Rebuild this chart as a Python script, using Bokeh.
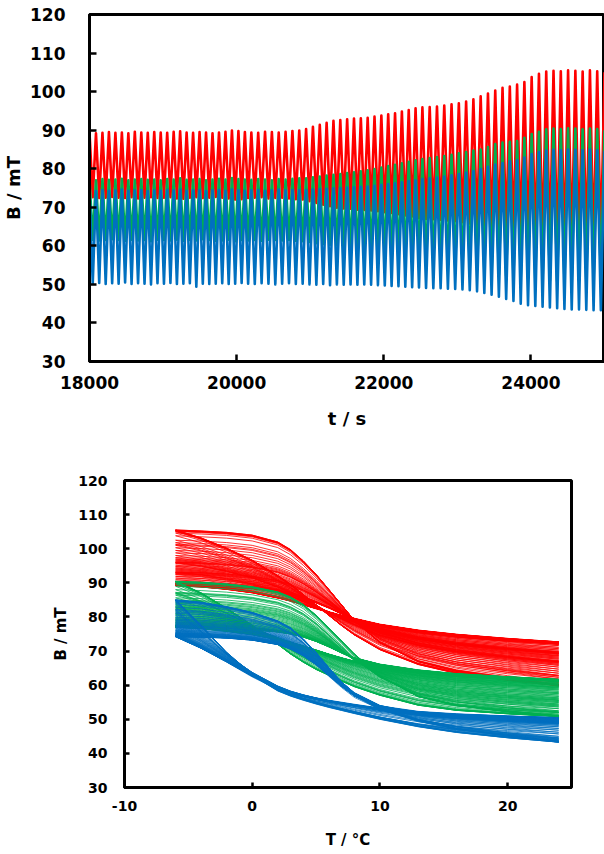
import numpy as np
from bokeh.plotting import figure
from bokeh.models import Range1d, FixedTicker, PrintfTickFormatter
from bokeh.embed import file_html
from bokeh.resources import INLINE

# ---------------- data ----------------
# temperature-cycle periods (s) between successive B maxima
cycle_period_s = [88] * 25 + [93] * 25 + [99] * 25
t_start = 18000

red_peak = [89.4, 89.2, 89.3, 89.5, 89.3, 89.4, 89.2, 89.6, 89.4, 89.3, 89.5, 89.4, 89.3, 89.6, 89.7, 89.4,
            89.3, 89.5, 89.4, 89.2, 89.4, 89.6, 89.9, 89.8, 89.5, 89.4, 89.3, 89.6, 89.5, 89.4, 89.6, 89.8, 89.9,
            90.3, 90.9, 91.4, 91.9, 92.4, 92.6, 92.8, 93.0, 93.1, 93.2, 93.5, 93.8, 94.1, 94.4, 94.8, 95.2,
            95.7, 95.9, 96.0, 96.1, 96.4, 96.7, 97.0, 97.4, 98.0, 98.8, 99.5, 100.3, 101.0, 101.3, 101.8,
            102.5, 103.8, 104.6, 105.2, 105.4, 105.3, 105.5, 105.4, 105.2, 105.5, 105.3, 105.0]
red_trough = [72.6, 72.4, 72.5, 72.7, 72.5, 72.4, 72.6, 72.3, 72.5, 72.6, 72.4, 72.5, 72.6, 72.3, 72.2, 72.5,
              72.6, 72.4, 72.5, 72.7, 72.5, 72.3, 72.0, 72.1, 72.4, 72.5, 72.6, 72.3, 72.4, 72.5, 72.3, 72.1, 72.0,
              71.6, 71.1, 70.7, 70.3, 69.9, 69.7, 69.6, 69.4, 69.3, 69.2, 69.0, 68.7, 68.5, 68.2, 67.9, 67.6,
              67.2, 67.0, 66.9, 66.8, 66.6, 66.4, 66.1, 65.8, 65.3, 64.7, 64.1, 63.5, 62.9, 62.7, 62.3, 61.8,
              60.8, 60.3, 60.0, 59.9, 60.0, 59.8, 59.9, 60.1, 59.8, 60.0]
green_peak = [77.2, 77.0, 77.3, 77.1, 77.2, 77.4, 77.0, 77.2, 77.3, 77.1, 77.2, 77.0, 77.3, 77.2, 77.5, 77.1,
              77.2, 77.3, 77.0, 77.2, 77.4, 77.2, 77.6, 77.3, 77.2, 77.1, 77.3, 77.2, 77.0, 77.3, 77.2, 77.4, 77.5,
              77.5, 77.8, 78.0, 78.2, 78.4, 78.6, 78.9, 79.1, 79.3, 79.6, 79.9, 80.3, 80.7, 81.0, 81.4, 81.8,
              82.2, 82.5, 82.8, 83.0, 83.3, 83.6, 84.0, 84.3, 84.7, 85.0, 85.6, 86.4, 86.8, 87.0, 87.2, 88.0,
              89.0, 89.6, 90.2, 90.4, 90.3, 90.5, 90.4, 90.2, 90.4, 90.3, 90.0]
green_trough = [61.6, 61.4, 61.5, 61.7, 61.5, 61.3, 61.6, 61.4, 61.5, 61.2, 61.6, 61.5, 61.4, 61.6, 61.3, 61.5,
                61.4, 61.7, 61.5, 61.3, 61.4, 61.6, 61.2, 61.5, 61.4, 61.5, 61.3, 61.6, 61.5, 61.4, 61.5, 61.3, 61.2,
                61.0, 60.7, 60.5, 60.3, 60.1, 59.9, 59.6, 59.4, 59.2, 58.9, 58.6, 58.2, 57.8, 57.5, 57.1, 56.7,
                56.3, 56.0, 55.7, 55.5, 55.2, 54.9, 54.5, 54.2, 53.9, 53.6, 53.1, 52.5, 52.2, 52.0, 51.9, 51.5,
                51.2, 51.0, 50.9, 50.8, 50.9, 50.8, 50.9, 51.0, 50.8, 50.9]
blue_peak = [74.4, 74.2, 74.5, 74.3, 74.4, 74.6, 74.3, 74.4, 74.5, 74.2, 74.4, 74.3, 74.5, 74.4, 74.6, 74.3,
             74.4, 74.5, 74.2, 74.4, 74.5, 74.3, 74.6, 74.4, 74.3, 74.4, 74.5, 74.3, 74.4, 74.6, 74.4, 74.5, 74.4,
             74.5, 74.6, 74.7, 74.8, 74.9, 75.0, 75.1, 75.2, 75.3, 75.4, 75.6, 75.8, 76.0, 76.2, 76.5, 76.8,
             77.0, 77.3, 77.5, 77.7, 78.0, 78.3, 78.6, 79.0, 79.4, 79.9, 80.5, 81.1, 81.5, 81.9, 82.2, 82.9,
             83.8, 84.3, 84.7, 84.9, 84.8, 85.0, 84.9, 84.8, 85.0, 84.8, 84.6]
blue_trough = [50.2, 50.4, 50.1, 50.3, 50.2, 50.5, 50.1, 50.3, 50.2, 50.0, 50.3, 50.2, 50.4, 50.1, 50.2, 50.3,
               49.4, 50.2, 50.1, 50.2, 50.3, 50.1, 50.2, 50.4, 50.2, 50.1, 50.3, 50.2, 50.0, 50.2, 50.3, 50.1,
               50.2, 50.0, 49.9, 50.1, 49.8, 50.0, 49.9, 50.0, 49.9,
               50.0, 49.9, 49.8, 49.7, 49.6, 49.5, 49.4, 49.3, 49.2, 49.1, 49.0, 49.0, 48.9, 48.8, 48.7, 48.5,
               48.2, 47.8, 47.3, 46.8, 46.2, 45.7, 45.0, 44.6, 44.4, 44.2, 44.0, 43.8, 43.6, 43.5, 43.5, 43.4,
               43.3, 43.3]

# hysteresis loop shapes B(T): first (early) and last (late) cycles
loop_T = [-6, -4, -2, 0, 2, 3, 4, 5, 6, 7, 8, 10, 13, 16, 20, 24]
red_early_heat = [89.0, 88.9, 88.6, 88.1, 87.2, 86.4, 85.3, 84.0, 82.5, 80.8, 79.3, 77.6, 75.9, 74.7, 73.5, 72.5]
red_early_cool = [89.0, 88.6, 87.9, 86.9, 85.4, 84.5, 83.4, 82.3, 81.2, 80.2, 79.2, 77.3, 75.6, 74.4, 73.3, 72.5]
red_late_heat = [105.3, 105.0, 104.6, 103.8, 101.8, 99.6, 96.3, 92.4, 88.0, 83.5, 79.0, 72.5, 67.0, 64.2, 62.0, 60.0]
red_late_cool = [105.3, 103.0, 100.0, 96.5, 92.0, 89.5, 86.5, 83.5, 80.5, 77.5, 74.8, 70.5, 66.2, 63.6, 61.6, 60.0]
green_early_heat = [77.2, 77.1, 76.9, 76.5, 75.8, 75.2, 74.3, 73.0, 71.4, 69.6, 67.9, 66.0, 64.3, 63.2, 62.3, 61.5]
green_early_cool = [77.2, 76.8, 76.0, 75.0, 73.5, 72.5, 71.4, 70.2, 69.0, 67.9, 66.9, 65.3, 63.8, 62.8, 62.0, 61.5]
green_late_heat = [90.4, 90.1, 89.6, 88.8, 87.3, 85.8, 83.6, 80.5, 76.8, 73.0, 69.2, 62.8, 56.8, 54.2, 52.4, 51.0]
green_late_cool = [90.4, 87.0, 82.5, 77.5, 72.0, 69.2, 66.8, 64.7, 63.0, 61.3, 59.7, 57.2, 54.3, 52.8, 51.8, 51.0]
blue_early_heat = [74.4, 74.3, 74.0, 73.4, 72.1, 70.8, 68.8, 66.2, 63.0, 59.8, 57.0, 53.6, 52.0, 51.3, 50.7, 50.2]
blue_early_cool = [74.4, 71.0, 67.0, 62.8, 59.2, 57.8, 56.8, 56.0, 55.3, 54.7, 54.1, 53.0, 51.9, 51.1, 50.6, 50.2]
blue_late_heat = [85.0, 84.3, 83.0, 81.3, 78.8, 76.8, 73.5, 69.5, 65.0, 60.8, 57.3, 53.2, 49.6, 47.3, 45.2, 43.4]
blue_late_cool = [85.0, 77.5, 69.5, 63.0, 58.5, 57.0, 55.8, 54.7, 53.7, 52.8, 51.9, 50.2, 48.0, 46.3, 44.7, 43.4]

top_x_ticks = [18000, 20000, 22000, 24000]
bottom_x_ticks = [-10, 0, 10, 20]
b_ticks = [30, 40, 50, 60, 70, 80, 90, 100, 110, 120]

COLORS = {"red": "#FF0000", "green": "#00B050", "blue": "#0070C0"}

for arr in (red_peak, green_peak, blue_peak):
    assert len(arr) == len(cycle_period_s) + 1, len(arr)
for arr in (red_trough, green_trough, blue_trough):
    assert len(arr) == len(cycle_period_s), len(arr)

# ---------------- derived positions ----------------
periods = np.array(cycle_period_s, dtype=float)
t_peak = np.concatenate([[t_start], t_start + np.cumsum(periods)])
t_trough = t_peak[:-1] + periods / 2.0


def zigzag(peaks, troughs):
    n = len(troughs)
    ts = np.empty(2 * n + 1)
    bs = np.empty(2 * n + 1)
    ts[0::2] = t_peak
    ts[1::2] = t_trough
    bs[0::2] = peaks
    bs[1::2] = troughs
    return ts, bs


def loops(peaks, troughs, eh, ec, lh, lc):
    peaks = np.array(peaks)
    tr = np.append(np.array(troughs), troughs[-1])
    eh, ec, lh, lc = map(np.array, (eh, ec, lh, lc))

    def norm(a):
        return (a - a[-1]) / (a[0] - a[-1])

    p0 = np.mean(peaks[:33])
    p1 = np.max(peaks)
    xs, ys = [], []
    T = np.array(loop_T, dtype=float)
    for k in range(len(peaks)):
        w = float(np.clip((peaks[k] - p0) / (p1 - p0), 0, 1))
        sh = (1 - w) * norm(eh) + w * norm(lh)
        sc = (1 - w) * norm(ec) + w * norm(lc)
        amp = peaks[k] - tr[k]
        bh = tr[k] + amp * sh
        bc = tr[k] + amp * sc
        xs.append(list(T) + list(T[::-1]))
        ys.append(list(bh) + list(bc[::-1]))
    return xs, ys


FONT = "DejaVu Sans"


def style(p, tick_in, font_size, standoff_x, standoff_y, lw, title_size, title_standoff_x, title_standoff_y):
    p.xgrid.grid_line_color = None
    p.ygrid.grid_line_color = None
    p.background_fill_color = "white"
    p.border_fill_color = "white"
    p.outline_line_color = "black"
    p.outline_line_width = lw
    p.outline_line_alpha = 1.0
    for ax in p.axis:
        ax.axis_line_color = "black"
        ax.axis_line_width = lw
        ax.major_tick_in = tick_in
        ax.major_tick_out = 0
        ax.major_tick_line_width = 2.5
        ax.major_tick_line_color = "black"
        ax.minor_tick_line_color = None
        ax.major_label_text_font = FONT
        ax.major_label_text_font_style = "bold"
        ax.major_label_text_font_size = font_size
        ax.major_label_text_color = "black"
        ax.axis_label_text_font = FONT
        ax.axis_label_text_font_style = "bold"
        ax.axis_label_text_font_size = title_size
        ax.axis_label_text_color = "black"
    p.xaxis.major_label_standoff = standoff_x
    p.yaxis.major_label_standoff = standoff_y
    p.xaxis.axis_label_standoff = title_standoff_x
    p.yaxis.axis_label_standoff = title_standoff_y


# ---------------- top panel (page y 0..445) ----------------
p1 = figure(width=604, height=445, x_range=Range1d(18000, 25000), y_range=Range1d(30, 120),
            output_backend="svg", toolbar_location=None,
            min_border_left=89, min_border_right=0, min_border_top=14, min_border_bottom=84,
            x_axis_label="t / s", y_axis_label="B / mT")
for name, pk, tr in (("red", red_peak, red_trough), ("green", green_peak, green_trough),
                     ("blue", blue_peak, blue_trough)):
    ts, bs = zigzag(pk, tr)
    p1.line(ts, bs, line_color=COLORS[name], line_width=2.6, line_join="round")
p1.xaxis.ticker = FixedTicker(ticks=top_x_ticks)
p1.yaxis.ticker = FixedTicker(ticks=b_ticks)
style(p1, 7, "17px", 14, 24, 3, "18px", 16, 3)

# ---------------- bottom panel (page y 445..852) ----------------
p2 = figure(width=604, height=407, x_range=Range1d(-10, 25), y_range=Range1d(30, 120),
            output_backend="svg", toolbar_location=None,
            min_border_left=124, min_border_right=33, min_border_top=35, min_border_bottom=65,
            x_axis_label="T / °C", y_axis_label="B / mT")
for name, pk, tr, eh, ec, lh, lc in (
        ("red", red_peak, red_trough, red_early_heat, red_early_cool, red_late_heat, red_late_cool),
        ("green", green_peak, green_trough, green_early_heat, green_early_cool, green_late_heat, green_late_cool),
        ("blue", blue_peak, blue_trough, blue_early_heat, blue_early_cool, blue_late_heat, blue_late_cool)):
    xs, ys = loops(pk, tr, eh, ec, lh, lc)
    p2.multi_line(xs, ys, line_color=COLORS[name], line_width=0.8)
p2.xaxis.ticker = FixedTicker(ticks=bottom_x_ticks)
p2.xaxis.formatter = PrintfTickFormatter(format="%d")
p2.yaxis.ticker = FixedTicker(ticks=b_ticks)
style(p2, 5, "14px", 13, 17, 3, "15px", 17, 5)

open("out.html", "w").write(file_html([p1, p2], INLINE))
